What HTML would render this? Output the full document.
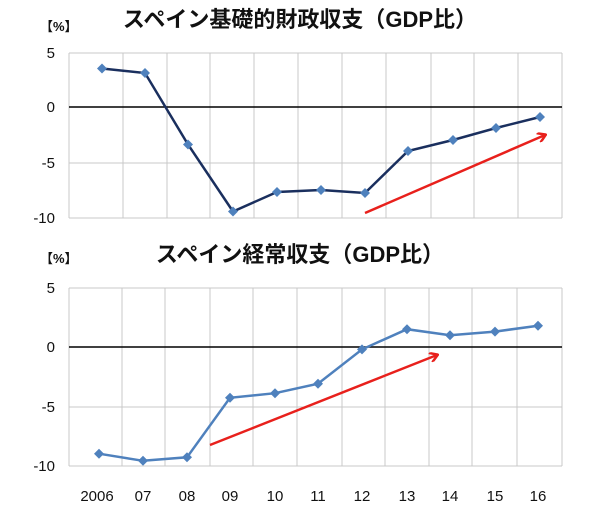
<!DOCTYPE html>
<html><head><meta charset="utf-8"><style>
body{margin:0;background:#fff;}
svg text{font-family:"Liberation Sans","Noto Sans CJK JP",sans-serif;}
</style></head><body>
<svg width="600" height="506" viewBox="0 0 600 506" xmlns="http://www.w3.org/2000/svg">
<defs>
<marker id="ah" markerWidth="10" markerHeight="10" refX="8" refY="5" orient="auto" markerUnits="userSpaceOnUse">
<path d="M1,0 L9,5 L1,10" fill="none" stroke="#e8201c" stroke-width="2.5"/>
</marker>
</defs>
<text x="300" y="27" font-size="22" font-weight="bold" text-anchor="middle" fill="#111">スペイン基礎的財政収支（GDP比）</text>
<text x="40" y="31" font-size="13" font-weight="bold" fill="#111">【%】</text>
<g stroke="#c8c8c8" stroke-width="1">
<line x1="69" y1="53" x2="562" y2="53"/><line x1="69" y1="163" x2="562" y2="163"/><line x1="69" y1="218" x2="562" y2="218"/>
<line x1="69" y1="53" x2="69" y2="218"/><line x1="562" y1="53" x2="562" y2="218"/>
<line x1="123" y1="53" x2="123" y2="218"/><line x1="167" y1="53" x2="167" y2="218"/><line x1="210" y1="53" x2="210" y2="218"/><line x1="254" y1="53" x2="254" y2="218"/><line x1="298" y1="53" x2="298" y2="218"/><line x1="342" y1="53" x2="342" y2="218"/><line x1="386" y1="53" x2="386" y2="218"/><line x1="431" y1="53" x2="431" y2="218"/><line x1="474" y1="53" x2="474" y2="218"/><line x1="518" y1="53" x2="518" y2="218"/>
</g>
<line x1="69" y1="107" x2="562" y2="107" stroke="#000" stroke-width="1.5"/>
<g font-size="15" fill="#111" text-anchor="end">
<text x="55" y="58">5</text><text x="55" y="112">0</text><text x="55" y="168">-5</text><text x="55" y="223">-10</text>
</g>
<polyline fill="none" stroke="#1a2f5e" stroke-width="2.5" points="102,68.5 145,73 188,144.5 233,211.5 277,192 321,190 365,193 408,151 453,140 496,128 540,117"/>
<g fill="#4f81bd">
<path d="M102,63.5l5,5l-5,5l-5,-5z"/><path d="M145,68l5,5l-5,5l-5,-5z"/><path d="M188,139.5l5,5l-5,5l-5,-5z"/><path d="M233,206.5l5,5l-5,5l-5,-5z"/><path d="M277,187l5,5l-5,5l-5,-5z"/><path d="M321,185l5,5l-5,5l-5,-5z"/><path d="M365,188l5,5l-5,5l-5,-5z"/><path d="M408,146l5,5l-5,5l-5,-5z"/><path d="M453,135l5,5l-5,5l-5,-5z"/><path d="M496,123l5,5l-5,5l-5,-5z"/><path d="M540,112l5,5l-5,5l-5,-5z"/>
</g>
<line x1="365" y1="213" x2="545" y2="135" stroke="#e8201c" stroke-width="2.5" marker-end="url(#ah)"/>

<text x="300" y="262" font-size="22" font-weight="bold" text-anchor="middle" fill="#111">スペイン経常収支（GDP比）</text>
<text x="40" y="263" font-size="13" font-weight="bold" fill="#111">【%】</text>
<g stroke="#c8c8c8" stroke-width="1">
<line x1="69" y1="288" x2="562" y2="288"/><line x1="69" y1="407" x2="562" y2="407"/><line x1="69" y1="466" x2="562" y2="466"/>
<line x1="69" y1="288" x2="69" y2="466"/><line x1="562" y1="288" x2="562" y2="466"/>
<line x1="122" y1="288" x2="122" y2="466"/><line x1="165" y1="288" x2="165" y2="466"/><line x1="210" y1="288" x2="210" y2="466"/><line x1="253" y1="288" x2="253" y2="466"/><line x1="297" y1="288" x2="297" y2="466"/><line x1="342" y1="288" x2="342" y2="466"/><line x1="385" y1="288" x2="385" y2="466"/><line x1="429" y1="288" x2="429" y2="466"/><line x1="472" y1="288" x2="472" y2="466"/><line x1="517" y1="288" x2="517" y2="466"/>
</g>
<line x1="69" y1="347" x2="562" y2="347" stroke="#000" stroke-width="1.5"/>
<g font-size="15" fill="#111" text-anchor="end">
<text x="55" y="293">5</text><text x="55" y="352">0</text><text x="55" y="412">-5</text><text x="55" y="471">-10</text>
</g>
<polyline fill="none" stroke="#4f81bd" stroke-width="2.5" points="99,453.7 143,460.8 187,457.3 230,397.8 275,393.2 318,383.7 362,349.4 407,329.2 450,335.2 495,331.6 538,325.7"/>
<g fill="#4f81bd">
<path d="M99,448.7l5,5l-5,5l-5,-5z"/><path d="M143,455.8l5,5l-5,5l-5,-5z"/><path d="M187,452.3l5,5l-5,5l-5,-5z"/><path d="M230,392.8l5,5l-5,5l-5,-5z"/><path d="M275,388.2l5,5l-5,5l-5,-5z"/><path d="M318,378.7l5,5l-5,5l-5,-5z"/><path d="M362,344.4l5,5l-5,5l-5,-5z"/><path d="M407,324.2l5,5l-5,5l-5,-5z"/><path d="M450,330.2l5,5l-5,5l-5,-5z"/><path d="M495,326.6l5,5l-5,5l-5,-5z"/><path d="M538,320.7l5,5l-5,5l-5,-5z"/>
</g>
<line x1="210" y1="445" x2="437" y2="355" stroke="#e8201c" stroke-width="2.5" marker-end="url(#ah)"/>
<g font-size="15" fill="#111" text-anchor="middle">
<text x="97" y="501">2006</text><text x="143" y="501">07</text><text x="187" y="501">08</text><text x="230" y="501">09</text><text x="275" y="501">10</text><text x="318" y="501">11</text><text x="362" y="501">12</text><text x="407" y="501">13</text><text x="450" y="501">14</text><text x="495" y="501">15</text><text x="538" y="501">16</text>
</g>
</svg>
</body></html>
